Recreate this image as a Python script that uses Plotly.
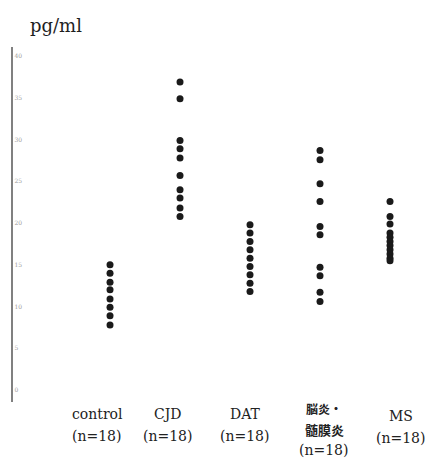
import plotly.graph_objects as go

categories = ["control", "CJD", "DAT", "脳炎・髄膜炎", "MS"]
n_labels = ["(n=18)", "(n=18)", "(n=18)", "(n=18)", "(n=18)"]
control = [15.0, 14.0, 12.9, 12.0, 10.9, 9.9, 8.9, 7.8]
cjd = [36.9, 34.9, 29.9, 28.9, 27.8, 25.7, 24.0, 23.0, 21.8, 20.8]
dat = [19.8, 18.8, 17.8, 16.8, 15.8, 14.8, 13.8, 12.8, 11.8]
enceph = [28.7, 27.6, 24.7, 22.6, 19.6, 18.6, 14.7, 13.7, 11.7, 10.6]
ms = [22.6, 20.8, 19.9, 18.8, 18.3, 17.8, 17.3, 16.8, 16.3, 15.8, 15.5]
series = [control, cjd, dat, enceph, ms]
y_ticks = [0, 5, 10, 15, 20, 25, 30, 35, 40]

fig = go.Figure()
for i, vals in enumerate(series):
    fig.add_trace(go.Scatter(
        x=[i] * len(vals), y=vals, mode="markers",
        marker=dict(size=7, color="#1a1a1a"),
        showlegend=False, hoverinfo="y"))

W, H = 429, 459
ml, mr, mt, mb = 13, 0, 47, 57
ph = H - mt - mb

def py(pix):
    return (H - mb - pix) / ph

serif = "DejaVu Serif, Liberation Serif, serif"
label_color = "#222222"
ann = []
shifts = [-13, -12, -5, 4, 11]
line1_y = [414, 414, 414, 408, 416]
for i, cat in enumerate(categories):
    if cat == "脳炎・髄膜炎":
        ann.append(dict(x=i, xref="x", y=py(408), yref="paper", text="<b>脳炎・</b>",
                        showarrow=False, xshift=shifts[i], yanchor="middle",
                        font=dict(family="Noto Sans CJK JP", size=12, color=label_color)))
        ann.append(dict(x=i, xref="x", y=py(430), yref="paper", text="<b>髄膜炎</b>",
                        showarrow=False, xshift=shifts[i], yanchor="middle",
                        font=dict(family="Noto Sans CJK JP", size=13, color=label_color)))
        ann.append(dict(x=i, xref="x", y=py(450), yref="paper", text=n_labels[i],
                        showarrow=False, xshift=shifts[i], yanchor="middle",
                        font=dict(family=serif, size=14, color=label_color)))
    else:
        ann.append(dict(x=i, xref="x", y=py(line1_y[i]), yref="paper", text=cat,
                        showarrow=False, xshift=shifts[i], yanchor="middle",
                        font=dict(family=serif, size=14, color=label_color)))
        ann.append(dict(x=i, xref="x", y=py(line1_y[i] + 22), yref="paper", text=n_labels[i],
                        showarrow=False, xshift=shifts[i], yanchor="middle",
                        font=dict(family=serif, size=14, color=label_color)))

ann.append(dict(x=(28 - ml) / (W - ml - mr), xref="paper", y=py(25), yref="paper",
                text="pg/ml", showarrow=False, xanchor="left", yanchor="middle",
                font=dict(family=serif, size=18, color="#1e1e1e")))

fig.update_layout(
    width=W, height=H,
    margin=dict(l=ml, r=mr, t=mt, b=mb, autoexpand=False),
    paper_bgcolor="white", plot_bgcolor="white",
    annotations=ann,
    xaxis=dict(range=[-1.386, 4.557], showgrid=False, zeroline=False,
               showline=False, showticklabels=False, ticks=""),
    yaxis=dict(range=[-1.44, 41.1], tickvals=y_ticks, showgrid=False, zeroline=False,
               showline=True, linecolor="#808080", linewidth=1.5,
               ticks="", ticklabelposition="inside",
               tickfont=dict(family=serif, size=6, color="#a0a0a0")),
)

fig.write_html("out.html", config={"displayModeBar": False},
               post_script="document.body.style.margin='0';document.body.style.overflow='hidden';")
